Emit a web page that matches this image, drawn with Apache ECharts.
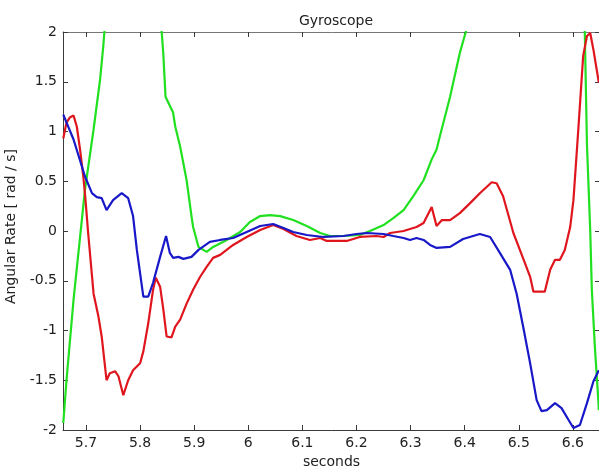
<!DOCTYPE html>
<html><head><meta charset="utf-8">
<script src="https://cdn.jsdelivr.net/npm/echarts@6/dist/echarts.min.js"></script>
<style>html,body{margin:0;padding:0;background:#fff}#c{width:599px;height:471px}</style>
</head><body><div id="c"></div>
<script>
var xMin = 5.6575, xMax = 6.6501, yMin = -2, yMax = 2;
var titleText = 'Gyroscope';
var xName = 'seconds';
var yName = 'Angular Rate [ rad / s]';

var blueT = [5.658,5.677,5.698,5.711,5.720,5.729,5.738,5.750,5.766,5.778,5.787,5.794,5.806,5.815,5.824,5.837,5.848,5.855,5.861,5.871,5.880,5.895,5.908,5.929,5.948,5.972,5.997,6.022,6.046,6.065,6.083,6.108,6.139,6.176,6.200,6.219,6.250,6.268,6.287,6.299,6.311,6.324,6.336,6.348,6.373,6.397,6.428,6.447,6.465,6.484,6.496,6.508,6.521,6.533,6.542,6.552,6.567,6.579,6.592,6.601,6.613,6.626,6.638,6.648];
var blueV = [1.17,0.92,0.55,0.38,0.34,0.33,0.21,0.31,0.38,0.33,0.15,-0.19,-0.66,-0.66,-0.52,-0.26,-0.05,-0.22,-0.27,-0.26,-0.28,-0.26,-0.19,-0.11,-0.09,-0.07,-0.01,0.05,0.07,0.03,-0.01,-0.04,-0.06,-0.05,-0.03,-0.02,-0.03,-0.05,-0.07,-0.09,-0.07,-0.09,-0.14,-0.17,-0.16,-0.08,-0.03,-0.06,-0.22,-0.39,-0.63,-0.96,-1.33,-1.70,-1.81,-1.80,-1.73,-1.78,-1.90,-1.98,-1.95,-1.73,-1.51,-1.40];

var redT = [5.658,5.664,5.670,5.677,5.683,5.689,5.695,5.698,5.700,5.704,5.714,5.723,5.729,5.738,5.744,5.754,5.760,5.769,5.778,5.787,5.800,5.806,5.815,5.824,5.829,5.837,5.843,5.849,5.858,5.865,5.874,5.886,5.898,5.911,5.923,5.935,5.948,5.972,5.997,6.022,6.046,6.065,6.089,6.114,6.133,6.145,6.182,6.206,6.237,6.250,6.262,6.287,6.311,6.324,6.339,6.348,6.358,6.373,6.391,6.410,6.428,6.450,6.459,6.471,6.490,6.502,6.521,6.527,6.548,6.558,6.567,6.576,6.585,6.595,6.601,6.610,6.619,6.626,6.632,6.638,6.648];
var redV = [0.93,1.09,1.14,1.16,1.05,0.82,0.55,0.38,0.25,-0.02,-0.63,-0.86,-1.06,-1.50,-1.43,-1.41,-1.46,-1.65,-1.50,-1.40,-1.33,-1.21,-0.93,-0.59,-0.47,-0.56,-0.79,-1.06,-1.07,-0.96,-0.89,-0.73,-0.59,-0.46,-0.36,-0.27,-0.24,-0.14,-0.06,0.01,0.06,0.02,-0.05,-0.09,-0.07,-0.10,-0.10,-0.06,-0.05,-0.06,-0.02,0.00,0.04,0.08,0.24,0.05,0.11,0.11,0.18,0.28,0.38,0.49,0.48,0.35,-0.02,-0.19,-0.46,-0.61,-0.61,-0.39,-0.29,-0.29,-0.19,0.04,0.31,1.02,1.76,1.96,1.99,1.82,1.49];

var greenT = [5.658,5.664,5.677,5.695,5.698,5.714,5.726,5.732,5.734,5.744,5.763,5.787,5.809,5.828,5.840,5.843,5.847,5.861,5.865,5.874,5.886,5.895,5.898,5.908,5.923,5.935,5.960,5.985,6.003,6.022,6.040,6.059,6.083,6.108,6.133,6.151,6.176,6.206,6.225,6.250,6.268,6.287,6.305,6.324,6.339,6.348,6.354,6.373,6.391,6.402,6.428,6.465,6.502,6.539,6.576,6.604,6.622,6.626,6.632,6.635,6.641,6.647,6.648];
var greenV = [-1.93,-1.50,-0.69,0.25,0.41,1.02,1.52,1.86,2.00,2.5,3.2,3.5,3.2,2.6,2.00,1.77,1.35,1.19,1.05,0.85,0.51,0.15,0.04,-0.16,-0.21,-0.16,-0.09,-0.01,0.09,0.15,0.16,0.15,0.11,0.05,-0.02,-0.05,-0.05,-0.04,0.00,0.06,0.13,0.21,0.35,0.51,0.72,0.82,0.95,1.35,1.79,2.00,3.0,4.5,5.5,5.8,5.0,3.5,2.00,0.87,0.01,-0.59,-1.20,-1.70,-1.80];

function pairs(t, v) { return t.map(function (x, i) { return [x, v[i]]; }); }

var font = 'DejaVu Sans';
var axisCol = '#3a3a3a';
var chart = echarts.init(document.getElementById('c'), null, {renderer: 'canvas'});
var baseX = {
  type: 'value', min: xMin, max: xMax, splitNumber: 10, minInterval: 0.1, maxInterval: 0.1,
  axisLine: {show: true, onZero: false, lineStyle: {color: axisCol, width: 1}},
  axisTick: {show: true, inside: true, length: 5, lineStyle: {color: axisCol}},
  splitLine: {show: false}
};
var baseY = {
  type: 'value', min: yMin, max: yMax, interval: 0.5,
  axisLine: {show: true, onZero: false, lineStyle: {color: axisCol, width: 1}},
  axisTick: {show: true, inside: true, length: 5, lineStyle: {color: axisCol}},
  splitLine: {show: false}
};
function lineSeries(name, data, color) {
  return {name: name, type: 'line', data: data, showSymbol: false, symbol: 'none', clip: true,
    lineStyle: {color: color, width: 2.2}, itemStyle: {color: color}, animation: false, z: 3};
}
chart.setOption({
  backgroundColor: '#ffffff',
  animation: false,
  title: {text: titleText, left: 331, top: 9, textAlign: 'center',
    textStyle: {fontFamily: font, fontSize: 14, fontWeight: 'normal', color: '#222'}},
  grid: {left: 63, top: 32, right: -1, bottom: 41, containLabel: false, outerBoundsMode: 'none'},
  xAxis: [
    Object.assign({}, baseX, {position: 'bottom', name: xName, nameLocation: 'middle', nameGap: 24,
      nameTextStyle: {fontFamily: font, fontSize: 14, color: '#222'},
      axisLabel: {show: true, margin: 6, showMinLabel: false, showMaxLabel: false,
        fontFamily: font, fontSize: 14, color: '#222',
        formatter: function (v) { var r = Math.round(v * 10) / 10; return Math.abs(r - v) < 1e-6 ? String(r) : ''; }}}),
    Object.assign({}, baseX, {position: 'top', axisLabel: {show: false}, axisLine: {show: true, onZero: false, lineStyle: {color: '#777', width: 1}}})
  ],
  yAxis: [
    Object.assign({}, baseY, {position: 'left', name: yName, nameLocation: 'middle', nameGap: 41, nameRotate: 90,
      nameTextStyle: {fontFamily: font, fontSize: 14, color: '#222', padding: [0, 0, 0, 9]},
      axisLabel: {show: true, margin: 6, fontFamily: font, fontSize: 14, color: '#222'}}),
    Object.assign({}, baseY, {position: 'right', axisLabel: {show: false}})
  ],
  series: [
    lineSeries('green', pairs(greenT, greenV), '#20e020'),
    lineSeries('red', pairs(redT, redV), '#e0161e'),
    lineSeries('blue', pairs(blueT, blueV), '#1818c8')
  ]
});
</script></body></html>
